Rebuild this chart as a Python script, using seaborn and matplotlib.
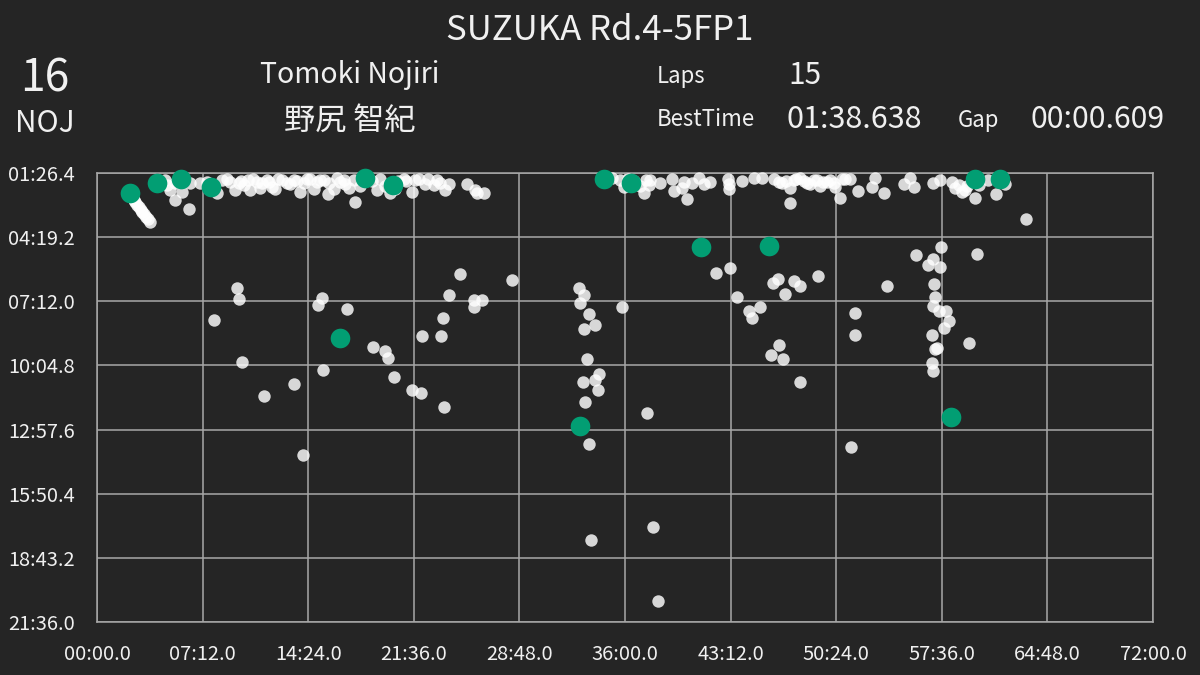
import matplotlib
matplotlib.use("Agg")
import matplotlib.pyplot as plt
import seaborn as sns
import pandas as pd

# ---------------- data ----------------
title = "SUZUKA Rd.4-5FP1"
car_number = "16"
driver_code = "NOJ"
driver_name_en = "Tomoki Nojiri"
driver_name_ja = "野尻 智紀"
laps = "15"
best_time = "01:38.638"
gap = "00:00.609"

# this driver's laps: elapsed session time (s) and lap time (s)
driver_x = [136, 247, 345, 468, 995, 1098, 1212, 1977, 2075, 2186, 2472, 2750, 3495, 3593, 3695]
driver_y = [140.3, 113.3, 102.6, 124.1, 530.9, 98.6, 118.7, 767.9, 102.6, 113.3, 285.7, 283.0, 743.7, 102.6, 102.6]

# all other drivers' laps: elapsed session time (s)
others_x = [
    # slow laps / pit laps
    574, 582, 479, 593, 684, 807, 844, 922, 905, 1023, 926, 1129, 1177, 1191, 1215, 1290,
    1324, 1418, 1330, 1409, 1416, 1441, 1483, 1541, 1573, 1541, 1699, 320, 376, 1057,
    1970, 1991, 1974, 2011, 1991, 2039, 2148, 2005, 2055, 1987, 2039, 2050, 1995, 2248,
    2014, 2021, 2276, 2293, 2534, 2588, 2618, 2666, 2680, 2714, 2764, 2786, 2813, 2853,
    2874, 2948, 2788, 2756, 2806, 2874, 3102, 3102, 3085,
    3800, 3451, 3349, 3602, 3420, 3398, 3447, 3230, 3424, 3427, 3420, 3446, 3474, 3487,
    3463, 3414, 3566, 3436, 3427, 3416, 3420,
    # out-lap streak
    150, 157, 164, 172, 179, 186, 193, 201, 208, 215,
    # fast laps, first run
    286, 300, 348, 382, 423, 450, 491, 532, 579, 600, 627, 655, 668, 696, 716, 729,
    757, 777, 804, 832, 845, 886, 914, 948, 945, 968, 995, 1029, 1050, 1146, 1159, 1200,
    1254, 1289, 1316, 1343, 1377, 1404, 1425, 1438, 1514, 1548, 1555, 1582,
    545, 619, 676, 791, 873, 1016, 1077, 1126, 1355, 1233, 1179, 566, 279, 320, 476, 1220,
    510, 590, 640, 705, 740, 820, 860, 900, 930, 980, 1010, 1100, 1265, 1300, 1390,
    # fast laps, second run
    2141, 2154, 2236, 2257, 2264, 2352, 2359, 2393, 2400, 2414, 2461, 2482, 2584, 2584,
    2639, 2686, 2720, 2768, 2802, 2836, 2833, 2850, 2891, 2932, 2972, 3013, 3041, 3048,
    3082, 3113, 3170, 3184, 3218, 3300, 3327, 3341, 3422, 3450, 3525, 3552, 3593, 3679, 3716,
    2877, 2918, 2959, 3000, 2820, 3020, 2304, 2108, 2174, 2223, 3499, 3540, 3646, 2583, 2509, 2435,
    2195, 2245, 2790, 2860, 2905, 2945, 2985, 3060, 3510, 3560, 3610,
]
# all other drivers' laps: lap time (s)
others_y = [
    397.0, 425.8, 482.4, 595.5, 687.9, 655.6, 846.0, 423.9, 441.2, 453.5, 617.9, 555.1, 565.1, 584.7, 635.1, 670.9,
    679.0, 716.7, 524.7, 524.7, 476.2, 414.2, 358.5, 429.3, 429.3, 448.2, 374.6, 159.1, 184.2, 163.7,
    395.4, 415.0, 435.8, 466.2, 507.4, 495.8, 448.2, 587.4, 627.8, 648.6, 644.0, 670.9, 704.1, 733.7,
    815.6, 1075.0, 1040.0, 1240.1, 355.8, 341.5, 421.2, 458.1, 476.2, 447.4, 381.9, 371.9, 413.1, 377.3,
    390.0, 364.7, 548.9, 577.5, 588.2, 648.6, 464.9, 522.8, 824.5,
    211.1, 284.9, 307.3, 305.4, 318.9, 333.4, 339.6, 391.6, 385.4, 421.2, 444.7, 458.1, 458.1, 484.3,
    504.7, 522.0, 543.5, 557.0, 559.7, 599.0, 618.9,
    159.1, 165.8, 172.0, 178.3, 185.1, 191.4, 198.2, 204.6, 211.0, 217.6,
    118.7, 132.2, 138.4, 114.1, 114.1, 109.8, 141.1, 103.4, 114.1, 118.7, 132.2, 109.8, 127.6, 105.3, 123.3, 130.3,
    105.3, 112.5, 105.3, 136.8, 114.1, 130.3, 105.3, 114.1, 143.8, 130.3, 109.8, 126.0, 105.3, 132.2, 103.4, 141.1,
    103.4, 136.8, 103.4, 116.0, 118.7, 114.1, 132.2, 116.0, 116.8, 132.2, 141.1, 141.1,
    110.6, 105.3, 113.3, 116.0, 102.6, 116.0, 121.4, 108.0, 102.6, 108.0, 121.4, 132.2, 105.3, 113.3, 118.7, 129.5,
    104.0, 108.5, 102.0, 110.0, 103.0, 107.5, 101.5, 111.0, 104.5, 101.0, 106.0, 103.5, 109.0, 104.0, 106.5,
    105.3, 123.3, 141.1, 118.7, 105.3, 103.4, 134.1, 127.6, 110.6, 157.2, 100.7, 116.0, 116.0, 130.3,
    107.1, 100.7, 100.7, 102.6, 114.1, 127.6, 168.0, 105.3, 108.0, 105.3, 109.8, 114.1, 152.9, 102.6,
    103.4, 134.9, 124.9, 100.7, 141.1, 116.0, 100.7, 123.3, 114.1, 105.3, 118.7, 132.2, 154.6, 143.0, 116.0,
    99.9, 116.0, 121.4, 105.3, 108.0, 124.1, 113.3, 99.9, 102.6, 121.4, 110.6, 137.6, 105.3, 102.6, 110.6, 113.3,
    108.0, 104.0, 110.0, 103.0, 112.0, 106.0, 111.5, 103.5, 126.0, 122.0, 118.0,
]

x_ticks = [0, 432, 864, 1296, 1728, 2160, 2592, 3024, 3456, 3888, 4320]
x_tick_labels = ["00:00.0", "07:12.0", "14:24.0", "21:36.0", "28:48.0", "36:00.0",
                 "43:12.0", "50:24.0", "57:36.0", "64:48.0", "72:00.0"]
y_ticks = [86.4, 259.2, 432.0, 604.8, 777.6, 950.4, 1123.2, 1296.0]
y_tick_labels = ["01:26.4", "04:19.2", "07:12.0", "10:04.8", "12:57.6", "15:50.4", "18:43.2", "21:36.0"]

# ---------------- style ----------------
sns.set_theme(style="dark")
plt.rcParams['font.family'] = ['Noto Sans CJK JP', 'DejaVu Sans']

BG = "#252525"
GRID = "#a8a8a8"
TXT = "#f0f0f0"
GREEN = "#029e73"
W, H = 1200, 675

fig = plt.figure(figsize=(12, 6.75), dpi=100, facecolor=BG)
ax = fig.add_axes([97 / W, 1 - 622 / H, (1153 - 97) / W, (622 - 173) / H])
ax.set_facecolor(BG)

others = pd.DataFrame({"elapsed": others_x, "lap": others_y})
mine = pd.DataFrame({"elapsed": driver_x, "lap": driver_y})

sns.scatterplot(data=others, x="elapsed", y="lap", color="white", alpha=0.82, s=80,
                linewidth=0, ax=ax, clip_on=False, zorder=3)
sns.scatterplot(data=mine, x="elapsed", y="lap", color=GREEN, s=200,
                linewidth=0, ax=ax, clip_on=False, zorder=4)

ax.set_xlim(x_ticks[0], x_ticks[-1])
ax.set_ylim(y_ticks[-1], y_ticks[0])
ax.set_xticks(x_ticks)
ax.set_xticklabels(x_tick_labels)
ax.set_yticks(y_ticks)
ax.set_yticklabels(y_tick_labels)
ax.set_xlabel("")
ax.set_ylabel("")
ax.set_axisbelow(True)
ax.grid(True, color=GRID, linewidth=1.1)
for sp in ax.spines.values():
    sp.set_visible(True)
    sp.set_color(GRID)
    sp.set_linewidth(1.1)
ax.tick_params(axis="both", colors=TXT, labelsize=14.4, length=0)
ax.tick_params(axis="y", pad=16)
ax.tick_params(axis="x", pad=16)


def ftext(x, y, s, size, ha="left"):
    fig.text(x / W, 1 - y / H, s, fontsize=size, color=TXT, ha=ha, va="center")


ftext(600, 30, title, 25, ha="center")
ftext(45, 78, car_number, 32, ha="center")
ftext(45, 124, driver_code, 21.5, ha="center")
ftext(350, 75, driver_name_en, 20.4, ha="center")
ftext(350, 121, driver_name_ja, 22.4, ha="center")
ftext(657, 76, "Laps", 16)
ftext(788, 75, laps, 21.5)
ftext(657, 120, "BestTime", 16)
ftext(786, 120, best_time, 22)
ftext(958, 121, "Gap", 16)
ftext(1031, 120, gap, 21.7)

fig.savefig("out.png", dpi=100, facecolor=BG)
